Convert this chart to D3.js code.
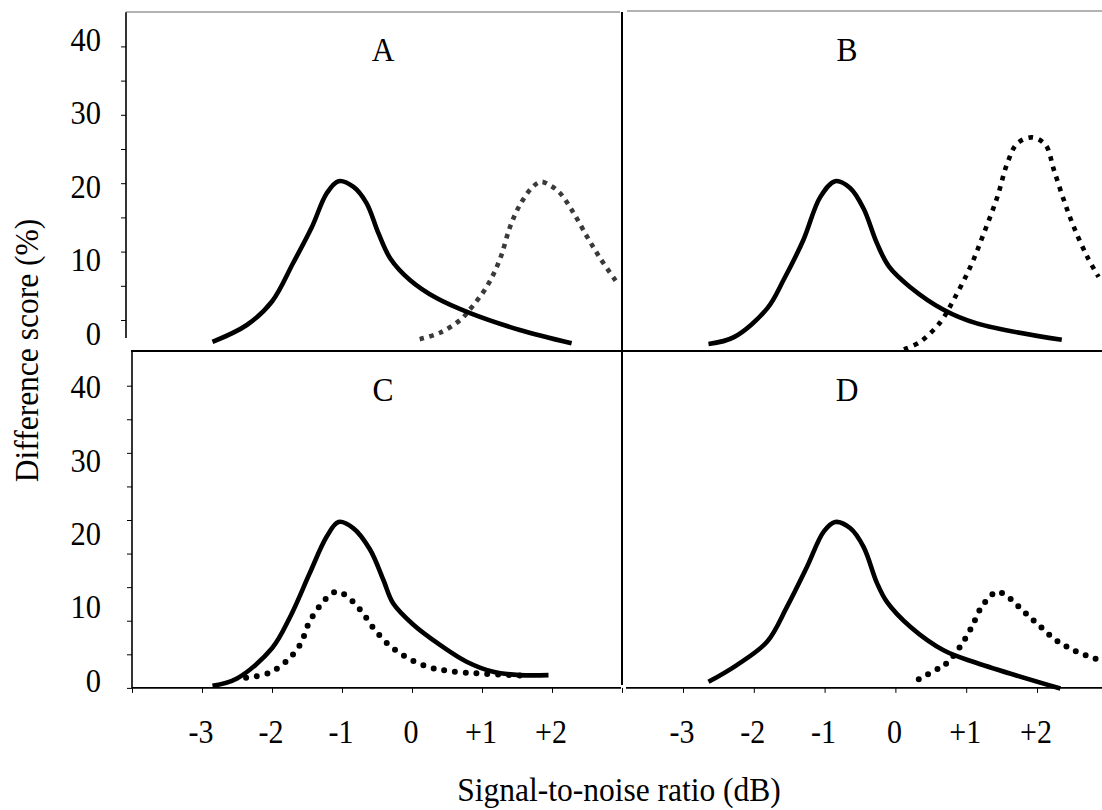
<!DOCTYPE html>
<html>
<head>
<meta charset="utf-8">
<script src="https://cdn.jsdelivr.net/npm/d3@7"></script>
<style>
  html, body { margin: 0; padding: 0; background: #fff; }
  svg { display: block; }
  text { font-family: "Liberation Serif", "Times New Roman", serif; fill: #000; }
</style>
</head>
<body>
<svg id="chart" width="1102" height="810"></svg>
<script>
// ---------------- data ----------------
const panelLetters = ["A", "B", "C", "D"];
const yTickValues = [0, 5, 10, 15, 20, 25, 30, 35, 40];
const yTickValuesLower = [-5, 0, 5, 10, 15, 20, 25, 30, 35, 40];
const yLabelValues = [0, 10, 20, 30, 40];
const xTickValuesLeft = [-4, -3, -2, -1, 0, 1, 2];
const xTickValuesRight = [-3, -2, -1, 0, 1, 2];
const xLabelValues = [-3, -2, -1, 0, 1, 2];
const xLabelText = ["-3", "-2", "-1", "0", "+1", "+2"];
const yAxisTitle = "Difference score (%)";
const xAxisTitle = "Signal-to-noise ratio (dB)";

// [SNR dB, difference score %]
const solidA = [[-2.85,-3.2],[-2.36,-0.73],[-2.0,2.7],[-1.70,8.3],[-1.43,13.6],[-1.22,18.5],[-1.05,20.3],[-0.84,19.5],[-0.65,17.1],[-0.48,12.7],[-0.31,9.0],[-0.03,5.85],[0.35,3.2],[0.83,1.0],[1.54,-1.46],[2.28,-3.4]];
const dottedA = [[0.11,-2.8],[0.40,-1.86],[0.69,0],[0.80,1.2],[1.07,4.9],[1.26,9.0],[1.40,13.6],[1.54,16.8],[1.71,19.3],[1.84,20.2],[1.97,19.7],[2.11,18.6],[2.30,15.8],[2.50,12.2],[2.69,9.0],[2.92,5.6]];
const solidB = [[-2.64,-3.5],[-2.28,-2.5],[-1.81,1.7],[-1.58,5.85],[-1.30,11.7],[-1.06,18.0],[-0.85,20.3],[-0.64,19.3],[-0.45,16.3],[-0.26,11.2],[-0.09,7.8],[0.21,4.8],[0.68,1.5],[1.15,-0.5],[2.35,-2.9]];
const dottedB = [[0.12,-4.3],[0.35,-3.2],[0.64,-0.25],[0.82,2.9],[1.06,7.8],[1.25,12.7],[1.44,18.0],[1.58,22.9],[1.72,25.8],[1.93,26.7],[2.12,25.6],[2.24,21.9],[2.38,17.5],[2.52,13.6],[2.71,9.25],[2.87,6.3]];
const solidC = [[-2.85,-4.7],[-2.50,-3.6],[-2.0,0.9],[-1.74,5.6],[-1.46,12.1],[-1.22,17.5],[-1.05,19.7],[-0.84,18.8],[-0.60,15.6],[-0.41,11.1],[-0.27,7.6],[0.02,4.4],[0.40,1.4],[0.78,-1.1],[1.16,-2.6],[1.54,-3.1],[1.95,-3.1]];
const dottedC = [[-2.37,-3.5],[-2.05,-2.8],[-1.79,-1.0],[-1.59,1.6],[-1.48,4.5],[-1.31,7.3],[-1.10,9.3],[-0.95,8.8],[-0.73,6.5],[-0.55,3.9],[-0.34,1.5],[-0.08,-0.45],[0.22,-1.85],[0.54,-2.5],[1.02,-2.9],[1.69,-3.2]];
const solidD = [[-2.64,-4.1],[-2.24,-1.6],[-1.81,1.9],[-1.53,7.1],[-1.25,13.0],[-1.01,18.3],[-0.85,19.7],[-0.64,18.8],[-0.45,16.0],[-0.26,10.6],[-0.12,7.8],[0.21,4.1],[0.68,0.6],[1.15,-1.3],[2.33,-5.1]];
const dottedD = [[0.33,-3.7],[0.61,-2.1],[0.74,-1.2],[0.93,1.4],[1.08,4.1],[1.22,7.1],[1.43,9.3],[1.57,8.7],[1.80,6.5],[2.03,4.3],[2.27,2.1],[2.54,0.5],[2.84,-0.7]];

// ---------------- scales ----------------
const xLeft = d3.scaleLinear().domain([-4, 3]).range([132, 622]);
const xRight = d3.scaleLinear().domain([-3, 2]).range([683, 1037]);
const yTop = d3.scaleLinear().domain([0, 40]).range([320, 46.4]);
const yBot = d3.scaleLinear().domain([0, 40]).range([654.3, 385.7]);
const yTopLabel = d3.scaleLinear().domain([0, 40]).range([345, 50.7]);
const yBotLabel = d3.scaleLinear().domain([0, 40]).range([691.7, 398.3]);
const TEXT_STRETCH = 1.1; // glyphs in the source are slightly taller than wide

const svg = d3.select("#chart");

// ---------------- frame lines ----------------
const frame = svg.append("g").attr("fill", "none");
frame.append("line").attr("x1", 126).attr("x2", 620).attr("y1", 12).attr("y2", 12)
  .attr("stroke", "#9a9a9a").attr("stroke-width", 1.4);
frame.append("line").attr("x1", 627).attr("x2", 1102).attr("y1", 11).attr("y2", 11)
  .attr("stroke", "#9a9a9a").attr("stroke-width", 1.4);
frame.append("line").attr("x1", 126).attr("x2", 126).attr("y1", yTop(45)).attr("y2", 338)
  .attr("stroke", "#000").attr("stroke-width", 1.6);
frame.append("line").attr("x1", 622).attr("x2", 622).attr("y1", 12).attr("y2", 685)
  .attr("stroke", "#000").attr("stroke-width", 2);
frame.append("line").attr("x1", 131).attr("x2", 1102).attr("y1", 351).attr("y2", 351)
  .attr("stroke", "#000").attr("stroke-width", 2.2);
frame.append("line").attr("x1", 132).attr("x2", 132).attr("y1", 351).attr("y2", yBot(-5))
  .attr("stroke", "#000").attr("stroke-width", 1.6);
frame.append("line").attr("x1", 132).attr("x2", 621).attr("y1", yBot(-5)).attr("y2", yBot(-5))
  .attr("stroke", "#000").attr("stroke-width", 1.6);
frame.append("line").attr("x1", 626).attr("x2", 1102).attr("y1", yBot(-5)).attr("y2", yBot(-5))
  .attr("stroke", "#000").attr("stroke-width", 1.6);

// ---------------- axes (ticks) ----------------
function styleAxis(g) {
  g.select(".domain").remove();
  g.selectAll(".tick line").attr("stroke", "#000").attr("stroke-width", 1);
  g.selectAll(".tick text").remove();
}
svg.append("g").attr("transform", "translate(126,0)")
  .call(d3.axisLeft(yTop).tickValues(yTickValues).tickSize(5).tickFormat(""))
  .call(styleAxis);
svg.append("g").attr("transform", "translate(132,0)")
  .call(d3.axisLeft(yBot).tickValues(yTickValuesLower).tickSize(5).tickFormat(""))
  .call(styleAxis);
svg.append("g").attr("transform", `translate(0,${yBot(-5)})`)
  .call(d3.axisBottom(xLeft).tickValues(xTickValuesLeft).tickSize(5).tickFormat(""))
  .call(styleAxis);
svg.append("g").attr("transform", `translate(0,${yBot(-5)})`)
  .call(d3.axisBottom(xRight).tickValues(xTickValuesRight).tickSize(5).tickFormat(""))
  .call(styleAxis);
svg.append("line").attr("x1", 622.5).attr("x2", 622.5).attr("y1", yBot(-5)).attr("y2", yBot(-5) + 5)
  .attr("stroke", "#000").attr("stroke-width", 1);

// helper: text placed at (x,y) baseline, stretched vertically
function placed(sel, fx, fy, rot) {
  sel.attr("transform", (d, i) =>
    `translate(${fx(d, i)},${fy(d, i)})${rot ? " rotate(" + rot + ")" : ""} scale(1,${TEXT_STRETCH})`);
}

// ---------------- tick labels ----------------
[yTopLabel, yBotLabel].forEach(sc => {
  svg.append("g").selectAll("text").data(yLabelValues).join("text")
    .call(placed, () => 101, d => sc(d))
    .attr("text-anchor", "end").attr("font-size", 30.5)
    .text(d => d);
});
[xLeft, xRight].forEach(sc => {
  svg.append("g").selectAll("text").data(xLabelValues).join("text")
    .call(placed, d => sc(d) - 1, () => 743)
    .attr("text-anchor", "middle").attr("font-size", 30)
    .text((d, i) => xLabelText[i]);
});

// axis titles
svg.append("text").datum(0).call(placed, () => 38, () => 350.5, -90)
  .attr("text-anchor", "middle").attr("font-size", 31.5).text(yAxisTitle);
svg.append("text").datum(0).call(placed, () => 619, () => 801)
  .attr("text-anchor", "middle").attr("font-size", 31.5).text(xAxisTitle);

// ---------------- panels ----------------
const panels = [
  { letter: panelLetters[0], x: xLeft,  y: yTop, lx: 383, ly: 61,  solid: solidA, dotted: dottedA, dot: { color: "#3a3a3a", width: 4.6, dash: "4.6 5.4", cap: "butt" } },
  { letter: panelLetters[1], x: xRight, y: yTop, lx: 847, ly: 61,  solid: solidB, dotted: dottedB, dot: { color: "#000", width: 4.6, dash: "4.6 6", cap: "butt" } },
  { letter: panelLetters[2], x: xLeft,  y: yBot, lx: 383, ly: 401, solid: solidC, dotted: dottedC, dot: { color: "#000", width: 6, dash: "0 10.8", cap: "round" } },
  { letter: panelLetters[3], x: xRight, y: yBot, lx: 847, ly: 401, solid: solidD, dotted: dottedD, dot: { color: "#000", width: 6, dash: "0 10.5", cap: "round" } }
];

panels.forEach(p => {
  const line = d3.line()
    .x(d => p.x(d[0])).y(d => p.y(d[1]))
    .curve(d3.curveCatmullRom.alpha(0.5));
  const g = svg.append("g");
  g.append("path").datum(p.dotted).attr("d", line)
    .attr("fill", "none").attr("stroke", p.dot.color).attr("stroke-width", p.dot.width)
    .attr("stroke-dasharray", p.dot.dash).attr("stroke-linecap", p.dot.cap);
  g.append("path").datum(p.solid).attr("d", line)
    .attr("fill", "none").attr("stroke", "#000").attr("stroke-width", 4.6)
    .attr("stroke-linejoin", "round");
  g.append("text").datum(p).call(placed, d => d.lx, d => d.ly)
    .attr("text-anchor", "middle").attr("font-size", 31.5).text(p.letter);
});
</script>
</body>
</html>
